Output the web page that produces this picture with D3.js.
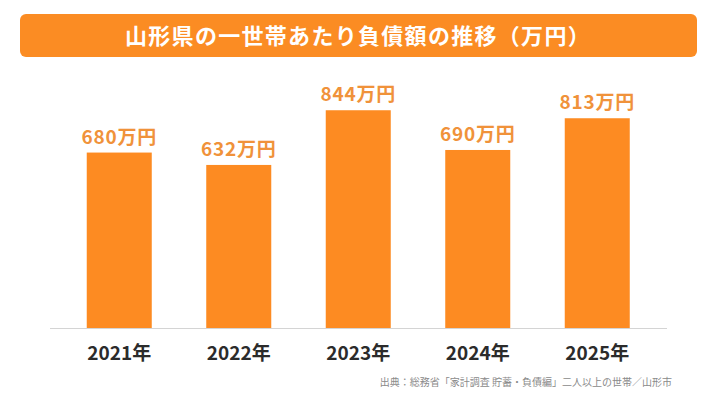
<!DOCTYPE html>
<html lang="ja">
<head>
<meta charset="utf-8">
<script src="https://cdn.jsdelivr.net/npm/d3@7"></script>
<style>
  html, body { margin: 0; padding: 0; background: #fff; }
  svg { display: block; font-family: "Noto Sans CJK JP", "Noto Sans", sans-serif; }
</style>
</head>
<body>
<svg id="chart" width="716" height="403"></svg>
<script>
const TITLE = "山形県の一世帯あたり負債額の推移（万円）";
const SOURCE = "出典：総務省「家計調査 貯蓄・負債編」二人以上の世帯／山形市";
const years = ["2021年", "2022年", "2023年", "2024年", "2025年"];
const debts = [680, 632, 844, 690, 813];
const unit = "万円";

const width = 716;
const height = 403;
const baseY = 328;

const svg = d3.select("#chart");

// title banner
svg.append("rect")
  .attr("x", 20).attr("y", 14)
  .attr("width", 677).attr("height", 43)
  .attr("rx", 6)
  .attr("fill", "#fb8c23");

svg.append("text")
  .attr("x", 358).attr("y", 44)
  .attr("text-anchor", "middle")
  .attr("fill", "#fff")
  .attr("font-size", 22)
  .attr("font-weight", 700)
  .attr("letter-spacing", 1.3)
  .text(TITLE);

const x = d3.scaleBand()
  .domain(years)
  .range([59.5, 657])
  .paddingInner(0.456)
  .paddingOuter(0.228);

const y = d3.scaleLinear()
  .domain([0, 1000])
  .range([baseY, baseY - 258]);

// baseline
svg.append("line")
  .attr("x1", 50).attr("x2", 667)
  .attr("y1", baseY + 0.5).attr("y2", baseY + 0.5)
  .attr("stroke", "#d4d4d4")
  .attr("stroke-width", 1);

svg.selectAll(".bar")
  .data(debts)
  .join("rect")
  .attr("class", "bar")
  .attr("x", (d, i) => x(years[i]))
  .attr("y", (d) => y(d))
  .attr("width", x.bandwidth())
  .attr("height", (d) => y(0) - y(d))
  .attr("fill", "#fd8b22");

svg.selectAll(".value")
  .data(debts)
  .join("text")
  .attr("class", "value")
  .attr("x", (d, i) => x(years[i]) + x.bandwidth() / 2)
  .attr("y", (d) => y(d) - 9)
  .attr("text-anchor", "middle")
  .attr("fill", "#f0923a")
  .attr("font-size", 19)
  .attr("font-weight", 700)
  .attr("letter-spacing", 0.8)
  .text((d) => d + unit);

// x axis labels
const xAxis = svg.append("g")
  .attr("transform", `translate(0,${baseY})`)
  .call(d3.axisBottom(x).tickSize(0).tickPadding(0));
xAxis.select(".domain").remove();
xAxis.selectAll("text")
  .attr("dy", null)
  .attr("y", 32)
  .attr("fill", "#2b2b2b")
  .attr("font-size", 19)
  .attr("font-weight", 700)
  .attr("font-family", "\"Noto Sans CJK JP\", sans-serif");

svg.append("text")
  .attr("x", 672).attr("y", 386)
  .attr("text-anchor", "end")
  .attr("fill", "#8a8a8a")
  .attr("font-size", 10)
  .text(SOURCE);
</script>
</body>
</html>
